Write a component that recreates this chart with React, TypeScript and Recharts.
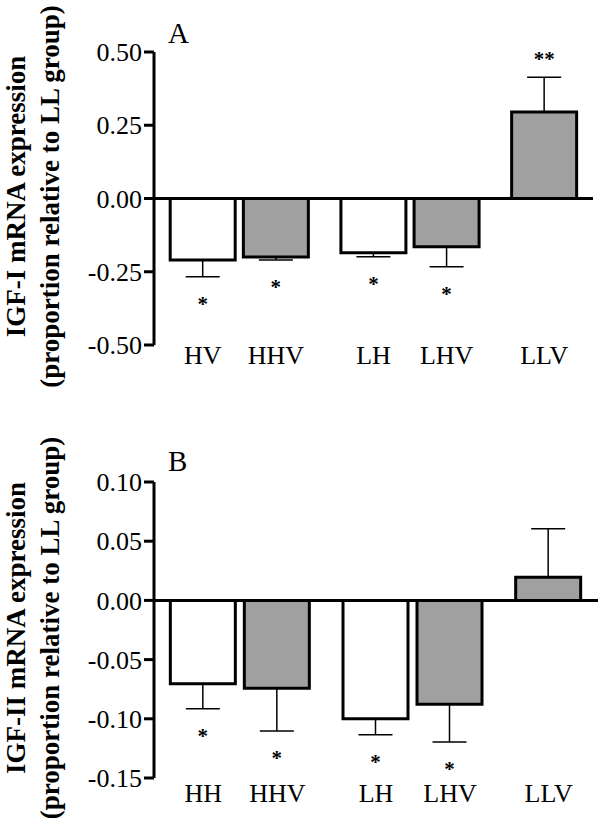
import React from "react";
import { BarChart, Bar, XAxis, YAxis, Cell, ErrorBar, ReferenceLine, LabelList } from "recharts";

// panel A: IGF-I
const groupsA = ["HV", "HHV", "LH", "LHV", "LLV"];
const meansA = [-0.21, -0.2, -0.185, -0.165, 0.295];
const semA = [0.057, 0.01, 0.014, 0.068, 0.119];
const starsA = ["*", "*", "*", "*", "**"];
const ticksA = [-0.5, -0.25, 0, 0.25, 0.5];

// panel B: IGF-II
const groupsB = ["HH", "HHV", "LH", "LHV", "LLV"];
const meansB = [-0.0705, -0.0742, -0.1, -0.0877, 0.0195];
const semB = [0.021, 0.036, 0.0135, 0.032, 0.041];
const starsB = ["*", "*", "*", "*", ""];
const ticksB = [-0.15, -0.1, -0.05, 0, 0.05, 0.1];

// x slots: groups are set out in pairs with a wider gap between pairs
const SLOTS = [0, 3, 7, 10, 14];
const FILLS = ["#ffffff", "#a0a0a0", "#ffffff", "#a0a0a0", "#a0a0a0"];

const FONT = "'Liberation Serif', 'Times New Roman', serif";

function buildRows(groups: string[], means: number[], sem: number[], stars: string[]) {
    return groups.map((g, i) => ({
        name: g,
        slot: SLOTS[i],
        mean: means[i],
        sem: sem[i],
        sig: stars[i],
        // one-sided error bar, away from zero
        err: means[i] < 0 ? [sem[i], 0] : [0, sem[i]],
    }));
}

const rowsA = buildRows(groupsA, meansA, semA, starsA);
const rowsB = buildRows(groupsB, meansB, semB, starsB);

function makeStars(rows: any[]) {
    return (props: any) => {
        const vb = props.viewBox || props;
        const r = rows[props.index];
        if (!r || !r.sig) return null;
        const h = Math.abs(vb.height);
        const top = Math.min(vb.y, vb.y + vb.height);
        const pxPer = h / Math.abs(r.mean);
        const cx = vb.x + vb.width / 2;
        const cy = r.mean < 0 ? top + h + r.sem * pxPer + 23 : top - r.sem * pxPer - 22;
        return (
            <text x={cx} y={cy + 11} textAnchor="middle" fontSize={21} fontWeight="bold" fontFamily={FONT} fill="#000">
                {r.sig}
            </text>
        );
    };
}

function AxisTitle(props: any) {
    const vb = props.viewBox || { y: 0, height: 0 };
    const cy = vb.y + vb.height / 2 - 2;
    return (
        <g>
            {props.lines.map((t: string, i: number) => {
                const x = i === 0 ? 25 : 59;
                return (
                    <text
                        key={i}
                        x={x}
                        y={cy}
                        transform={`rotate(-90, ${x}, ${cy})`}
                        textAnchor="middle"
                        fontSize={27}
                        fontWeight="bold"
                        fontFamily={FONT}
                        fill="#000"
                    >
                        {t}
                    </text>
                );
            })}
        </g>
    );
}

interface PanelProps {
    rows: any[];
    ticks: number[];
    letter: string;
    letterTop: number;
    height: number;
    margin: { top: number; right: number; bottom: number; left: number };
    xTickMargin: number;
    title: string[];
}

function Panel({ rows, ticks, letter, letterTop, height, margin, xTickMargin, title }: PanelProps) {
    const names = (v: number) => {
        const r = rows.find((d) => d.slot === v);
        return r ? r.name : "";
    };
    return (
        <div style={{ position: "relative", width: 600, height }}>
            <div
                style={{
                    position: "absolute",
                    left: 168,
                    top: letterTop,
                    fontFamily: FONT,
                    fontSize: 29,
                    lineHeight: "29px",
                    color: "#000",
                }}
            >
                {letter}
            </div>
            <BarChart width={600} height={height} data={rows} margin={margin}>
                <XAxis
                    type="number"
                    dataKey="slot"
                    domain={[-2, 16]}
                    ticks={SLOTS}
                    tickFormatter={names}
                    axisLine={false}
                    tickLine={false}
                    tickSize={0}
                    tickMargin={xTickMargin}
                    height={30}
                    interval={0}
                    tick={{ fontSize: 26, fill: "#000", fontFamily: FONT }}
                />
                <YAxis
                    type="number"
                    domain={[ticks[0], ticks[ticks.length - 1]]}
                    ticks={ticks}
                    interval={0}
                    width={154}
                    tickFormatter={(v: number) => v.toFixed(2)}
                    tickSize={10}
                    tickMargin={2}
                    axisLine={{ stroke: "#000", strokeWidth: 3 }}
                    tickLine={{ stroke: "#000", strokeWidth: 3 }}
                    tick={{ fontSize: 26, fill: "#000", fontFamily: FONT }}
                    label={<AxisTitle lines={title} />}
                />
                <Bar dataKey="mean" barSize={65} stroke="#000" strokeWidth={3} isAnimationActive={false}>
                    {rows.map((r, i) => (
                        <Cell key={r.name} fill={FILLS[i]} />
                    ))}
                    <ErrorBar dataKey="err" direction="y" width={17} stroke="#000" strokeWidth={1.5} isAnimationActive={false} />
                    <LabelList dataKey="mean" content={makeStars(rows)} />
                </Bar>
                <ReferenceLine y={0} stroke="#000" strokeWidth={3} />
            </BarChart>
        </div>
    );
}

export default function App() {
    return (
        <div style={{ position: "absolute", left: 0, top: 0, width: 600, height: 826, background: "#fff" }}>
            <Panel
                rows={rowsA}
                ticks={ticksA}
                letter="A"
                letterTop={19}
                height={410}
                margin={{ top: 52, right: 7, bottom: 35, left: 0 }}
                xTickMargin={1}
                title={["IGF-I mRNA expression", "(proportion relative to LL group)"]}
            />
            <Panel
                rows={rowsB}
                ticks={ticksB}
                letter="B"
                letterTop={37}
                height={416}
                margin={{ top: 72, right: 2, bottom: 18, left: 0 }}
                xTickMargin={6}
                title={["IGF-II mRNA expression", "(proportion relative to LL group)"]}
            />
        </div>
    );
}
